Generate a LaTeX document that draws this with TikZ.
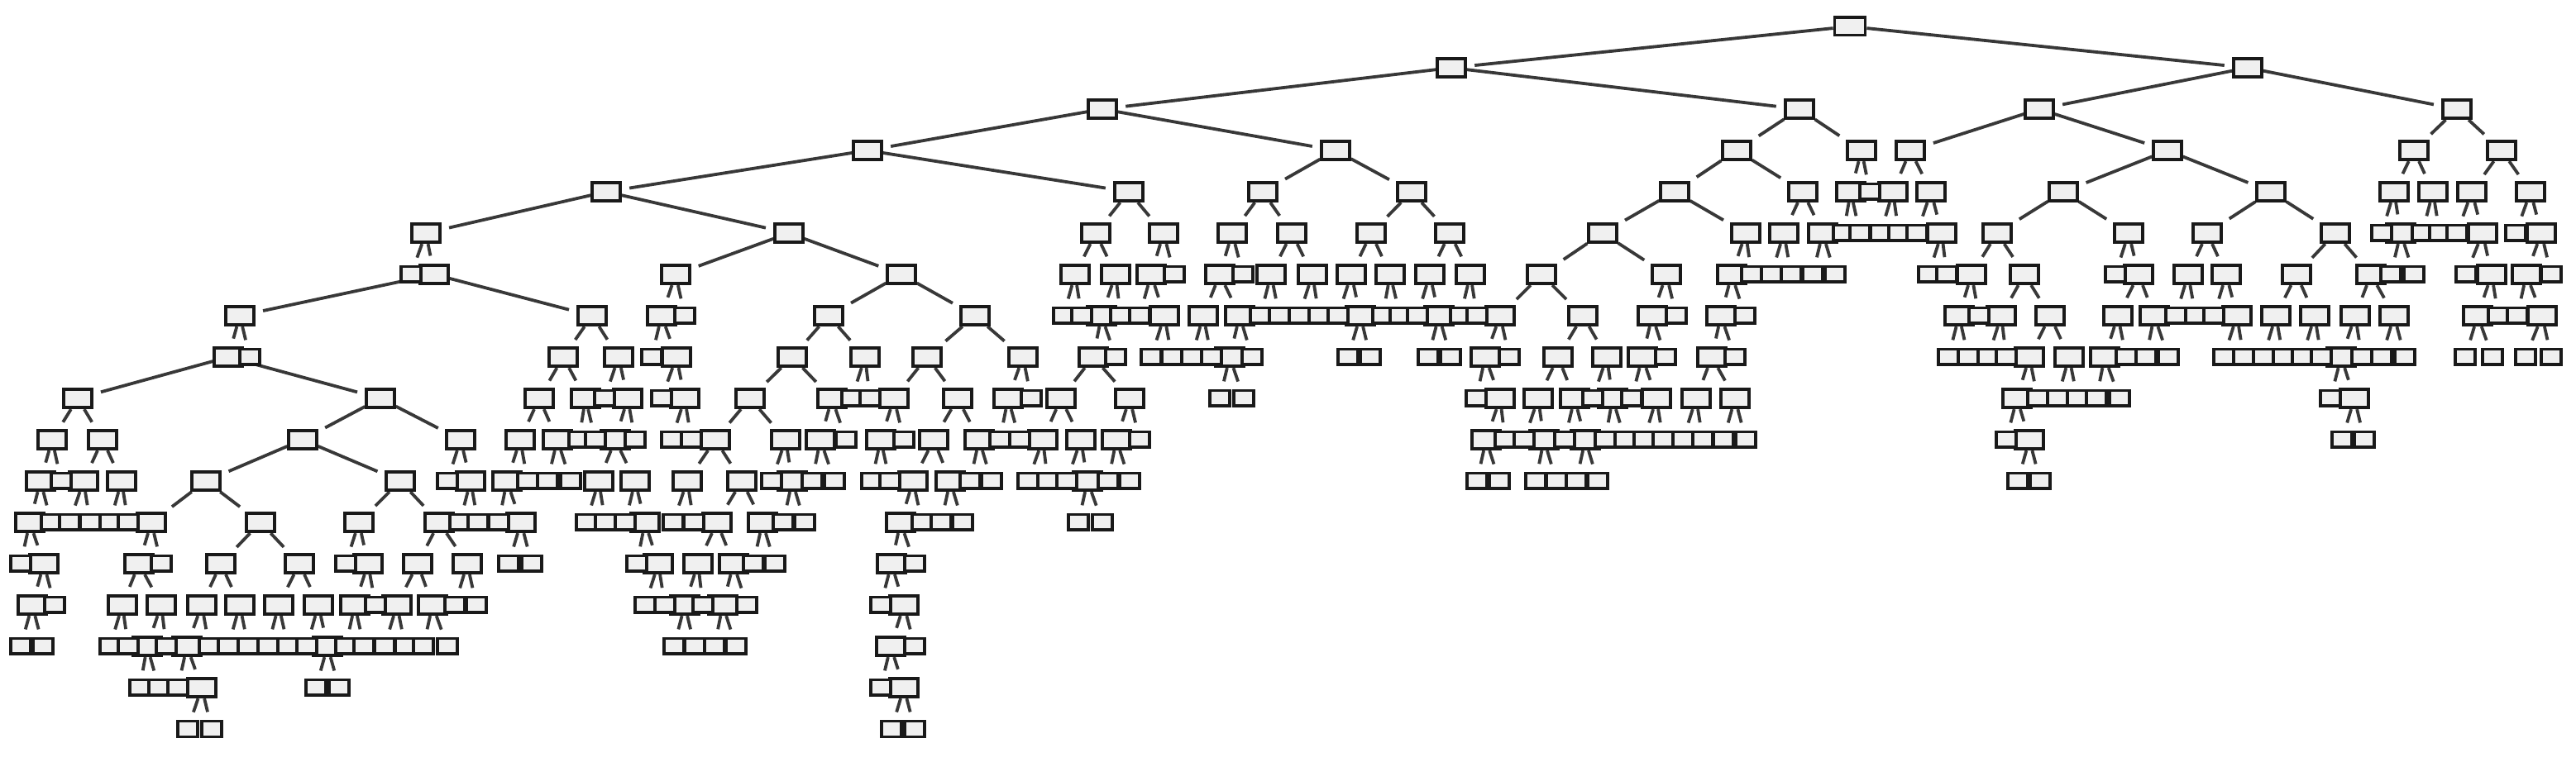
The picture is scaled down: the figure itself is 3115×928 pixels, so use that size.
\documentclass[tikz,border=0pt]{standalone}
\pgfdeclarelayer{bg}
\pgfsetlayers{bg,main}
\tikzset{
  inode/.style={draw=black!90, line width=0.95pt, fill=black!6, minimum width=8.4pt, minimum height=5.6pt, inner sep=0pt},
  lnode/.style={inode, minimum width=5.9pt, minimum height=4.7pt},
  rootnode/.style={inode, minimum width=9.25pt, minimum height=5.3pt},
  edge/.style={draw=black!78, line width=0.95pt, shorten >=2.4pt}
}
\newcommand\treeint[2]{\foreach \x in {#2} {\node[inode] (n#1x\x) at (\x,{32+50*#1}) {};}}
\newcommand\treeleaf[2]{\foreach \x in {#2} {\node[lnode] (n#1x\x) at (\x,{32+50*#1}) {};}}
\newcommand\treekids[3]{\foreach \p/\a/\b in {#3} {\draw[edge] (n#1x\p) -- (n#2x\a); \draw[edge] (n#1x\p) -- (n#2x\b);}}
\begin{document}
\begin{tikzpicture}[x=0.25pt,y=-0.25pt]
\begin{pgfonlayer}{bg}
\fill[white] (0,0) rectangle (3115,928);
\end{pgfonlayer}
\useasboundingbox (0,0) rectangle (3115,928);
% nodes
\node[rootnode] (n0x2237) at (2237,32) {};
\treeint{1}{1755,2718}
\treeint{2}{1333,2176,2466,2971}
\treeint{3}{1049,1615,2100,2251,2310,2621,2919,3025}
\treeint{4}{733,1365,1527,1707,2025,2180,2238,2289,2335,2495,2746,2895,2942,2989,3060}
\treeleaf{4}{2261}
\treeint{5}{515,954,1325,1407,1490,1562,1658,1753,1938,2111,2157,2204,2348,2415,2574,2669,2824,2903,3002,3073}
\treeleaf{5}{2229,2249,2274,2296,2318,2880,2929,2950,2971,3042}
\treeint{6}{525,817,1090,1300,1349,1392,1475,1537,1587,1634,1681,1729,1778,1864,2015,2094,2384,2448,2586,2646,2692,2777,2867,3013,3055}
\treeleaf{6}{497,1420,1503,2118,2142,2166,2192,2219,2332,2354,2558,2891,2919,2982,3085}
\treeint{7}{290,716,800,1002,1179,1332,1408,1455,1499,1645,1740,1814,1914,1998,2081,2369,2420,2479,2561,2605,2705,2752,2799,2848,2895,2996,3074}
\treeleaf{7}{828,1286,1308,1355,1378,1524,1547,1571,1595,1618,1672,1693,1714,1766,1786,2027,2110,2393,2631,2655,2677,3021,3044}
\treeint{8}{276,681,748,818,958,1046,1121,1237,1322,1487,1796,1884,1943,1986,2070,2454,2502,2545,2831}
\treeleaf{8}{302,788,1349,1392,1417,1441,1465,1514,1630,1657,1727,1754,1825,2014,2098,2356,2380,2404,2426,2571,2595,2622,2689,2713,2737,2761,2784,2807,2856,2880,2908,2981,3014,3054,3085}
\treeint{9}{94,460,652,708,759,828,907,1006,1081,1158,1219,1283,1366,1814,1860,1904,1950,2003,2051,2098,2439,2847}
\treeleaf{9}{731,800,1030,1052,1247,1475,1504,1785,1926,1973,2464,2488,2512,2535,2563,2818}
\treeint{10}{63,124,366,557,629,674,744,865,950,992,1065,1129,1184,1261,1307,1350,1797,1867,1917,2454}
\treeleaf{10}{700,720,768,812,836,1023,1093,1209,1233,1378,1820,1843,1892,1941,1965,1988,2011,2035,2059,2084,2111,2426,2832,2859}
\treeint{11}{49,101,147,249,484,569,613,724,768,831,897,958,1104,1149,1315}
\treeleaf{11}{74,541,638,662,690,933,982,1009,1054,1076,1173,1199,1243,1267,1290,1340,1366,1786,1813,1857,1882,1906,1932,2440,2467}
\treeint{12}{36,183,315,434,531,630,780,867,922,1089}
\treeleaf{12}{62,84,109,133,155,556,578,603,709,732,756,814,839,947,973,1115,1138,1164,1304,1333}
\treeint{13}{53,168,267,362,445,505,565,796,844,887,1078}
\treeleaf{13}{25,195,418,615,643,770,911,937,1106}
\treeint{14}{39,148,195,244,290,337,385,429,480,523,828,874,1093}
\treeleaf{14}{66,454,550,576,780,804,850,903,1065}
\treeint{15}{178,226,396,1077}
\treeleaf{15}{25,52,133,155,201,253,276,300,324,348,371,418,440,465,490,512,541,815,840,864,890,1106}
\treeint{16}{244,1093}
\treeleaf{16}{169,192,215,382,410,1065}
\treeleaf{17}{227,256,1078,1106}
% edges
\begin{pgfonlayer}{bg}
\treekids{0}{1}{2237/1755/2718}
\treekids{1}{2}{1755/1333/2176, 2718/2466/2971}
\treekids{2}{3}{1333/1049/1615, 2176/2100/2251, 2466/2310/2621, 2971/2919/3025}
\treekids{3}{4}{1049/733/1365, 1615/1527/1707, 2100/2025/2180, 2251/2238/2261, 2310/2289/2335, 2621/2495/2746, 2919/2895/2942, 3025/2989/3060}
\treekids{4}{5}{733/515/954, 1365/1325/1407, 1527/1490/1562, 1707/1658/1753, 2025/1938/2111, 2180/2157/2204, 2238/2229/2249, 2289/2274/2296, 2335/2318/2348, 2495/2415/2574, 2746/2669/2824, 2895/2880/2903, 2942/2929/2950, 2989/2971/3002, 3060/3042/3073}
\treekids{5}{6}{515/497/525, 954/817/1090, 1325/1300/1349, 1407/1392/1420, 1490/1475/1503, 1562/1537/1587, 1658/1634/1681, 1753/1729/1778, 1938/1864/2015, 2111/2094/2118, 2157/2142/2166, 2204/2192/2219, 2348/2332/2354, 2415/2384/2448, 2574/2558/2586, 2669/2646/2692, 2824/2777/2867, 2903/2891/2919, 3002/2982/3013, 3073/3055/3085}
\treekids{6}{7}{525/290/716, 817/800/828, 1090/1002/1179, 1300/1286/1308, 1349/1332/1355, 1392/1378/1408, 1475/1455/1499, 1537/1524/1547, 1587/1571/1595, 1634/1618/1645, 1681/1672/1693, 1729/1714/1740, 1778/1766/1786, 1864/1814/1914, 2015/1998/2027, 2094/2081/2110, 2384/2369/2393, 2448/2420/2479, 2586/2561/2605, 2646/2631/2655, 2692/2677/2705, 2777/2752/2799, 2867/2848/2895, 3013/2996/3021, 3055/3044/3074}
\treekids{7}{8}{290/276/302, 716/681/748, 800/788/818, 1002/958/1046, 1179/1121/1237, 1332/1322/1349, 1408/1392/1417, 1455/1441/1465, 1499/1487/1514, 1645/1630/1657, 1740/1727/1754, 1814/1796/1825, 1914/1884/1943, 1998/1986/2014, 2081/2070/2098, 2369/2356/2380, 2420/2404/2426, 2479/2454/2502, 2561/2545/2571, 2605/2595/2622, 2705/2689/2713, 2752/2737/2761, 2799/2784/2807, 2848/2831/2856, 2895/2880/2908, 2996/2981/3014, 3074/3054/3085}
\treekids{8}{9}{276/94/460, 681/652/708, 748/731/759, 818/800/828, 958/907/1006, 1046/1030/1052, 1121/1081/1158, 1237/1219/1247, 1322/1283/1366, 1487/1475/1504, 1796/1785/1814, 1884/1860/1904, 1943/1926/1950, 1986/1973/2003, 2070/2051/2098, 2454/2439/2464, 2502/2488/2512, 2545/2535/2563, 2831/2818/2847}
\treekids{9}{10}{94/63/124, 460/366/557, 652/629/674, 708/700/720, 759/744/768, 828/812/836, 907/865/950, 1006/992/1023, 1081/1065/1093, 1158/1129/1184, 1219/1209/1233, 1283/1261/1307, 1366/1350/1378, 1814/1797/1820, 1860/1843/1867, 1904/1892/1917, 1950/1941/1965, 2003/1988/2011, 2051/2035/2059, 2098/2084/2111, 2439/2426/2454, 2847/2832/2859}
\treekids{10}{11}{63/49/74, 124/101/147, 366/249/484, 557/541/569, 629/613/638, 674/662/690, 744/724/768, 865/831/897, 950/933/958, 992/982/1009, 1065/1054/1076, 1129/1104/1149, 1184/1173/1199, 1261/1243/1267, 1307/1290/1315, 1350/1340/1366, 1797/1786/1813, 1867/1857/1882, 1917/1906/1932, 2454/2440/2467}
\treekids{11}{12}{49/36/62, 101/84/109, 147/133/155, 249/183/315, 484/434/531, 569/556/578, 613/603/630, 724/709/732, 768/756/780, 831/814/839, 897/867/922, 958/947/973, 1104/1089/1115, 1149/1138/1164, 1315/1304/1333}
\treekids{12}{13}{36/25/53, 183/168/195, 315/267/362, 434/418/445, 531/505/565, 630/615/643, 780/770/796, 867/844/887, 922/911/937, 1089/1078/1106}
\treekids{13}{14}{53/39/66, 168/148/195, 267/244/290, 362/337/385, 445/429/454, 505/480/523, 565/550/576, 796/780/804, 844/828/850, 887/874/903, 1078/1065/1093}
\treekids{14}{15}{39/25/52, 148/133/155, 195/178/201, 244/226/253, 290/276/300, 337/324/348, 385/371/396, 429/418/440, 480/465/490, 523/512/541, 828/815/840, 874/864/890, 1093/1077/1106}
\treekids{15}{16}{178/169/192, 226/215/244, 396/382/410, 1077/1065/1093}
\treekids{16}{17}{244/227/256, 1093/1078/1106}
\end{pgfonlayer}
\end{tikzpicture}
\end{document}
